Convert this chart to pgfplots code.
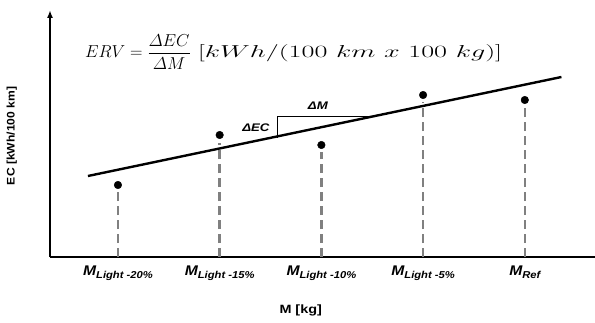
\documentclass[border=0pt]{standalone}
\usepackage{pgfplots}
\pgfplotsset{compat=1.18}
\usepackage{fontspec}
\setmainfont{Liberation Sans}
\usetikzlibrary{arrows.meta}
\definecolor{dashgray}{RGB}{128,128,128}
\newcommand{\ml}[1]{\scalebox{1.12}[1]{\fontsize{14}{15}\selectfont\bfseries\itshape M\raisebox{-0.45ex}{\fontsize{10}{11}\selectfont #1}}}
\begin{document}
\begin{tikzpicture}
\path[use as bounding box] (-50pt,-65pt) rectangle (545pt,257pt);
\begin{axis}[
  scale only axis,
  width=545pt, height=247pt,
  xmin=-0.668, xmax=4.69,
  ymin=0, ymax=247,
  axis x line=bottom, axis y line=left,
  x axis line style={-, line width=1.6pt},
  y axis line style={-{Latex[length=8pt,width=6pt]}, line width=1.6pt},
  xtick={0,1,2,3,4},
  xticklabels={\ml{Light -20\%},\ml{Light -15\%},\ml{Light -10\%},\ml{Light -5\%},\ml{Ref}},
  ytick=\empty,
  major tick length=0pt,
  xticklabel style={yshift=-5pt},
  xlabel={\scalebox{1.2}[1]{\fontsize{12}{14}\selectfont\bfseries M [kg]}},
  xlabel style={at={(axis description cs:0.46,0)}, anchor=center, yshift=-53pt},
  ylabel={\scalebox{1.1}[1]{\fontsize{11}{13}\selectfont\bfseries EC [kWh/100 km]}},
  ylabel style={at={(axis description cs:-0.07,0.49)}, anchor=center},
  clip=false,
]
% dashed drop lines
\addplot[ycomb, dashgray, line width=2.6pt, dash pattern=on 9pt off 5pt] coordinates {(0,65)(1,114)(2,105)(3,155)(4,150)};
% regression line
\addplot[black, line width=2.4pt] coordinates {(-0.295,81)(4.36,180)};
% slope triangle
\addplot[black, line width=0.8pt] coordinates {(1.572,119.5)(1.572,141)(2.526,141)};
% data points
\addplot[only marks, mark=*, mark size=3.8pt, black] coordinates {(0,72)(1,122)(2,112)(3,162)(4,157)};
\node at (axis cs:1.356,129) {\scalebox{1.2}[1]{\fontsize{11}{12}\selectfont\bfseries\itshape ΔEC}};
\node at (axis cs:1.966,151) {\scalebox{1.2}[1]{\fontsize{11}{12}\selectfont\bfseries\itshape ΔM}};
\node[anchor=west, inner sep=0pt] at (axis cs:-0.324,205) {\fontsize{19}{22}\selectfont$\displaystyle ERV=\frac{\mathnormal{\Delta}EC}{\mathnormal{\Delta}M}$\hspace{7pt}\scalebox{1.63}[1]{$[kWh/(100\ km\ x\ 100\ kg)]$}};
\end{axis}
\end{tikzpicture}
\end{document}
